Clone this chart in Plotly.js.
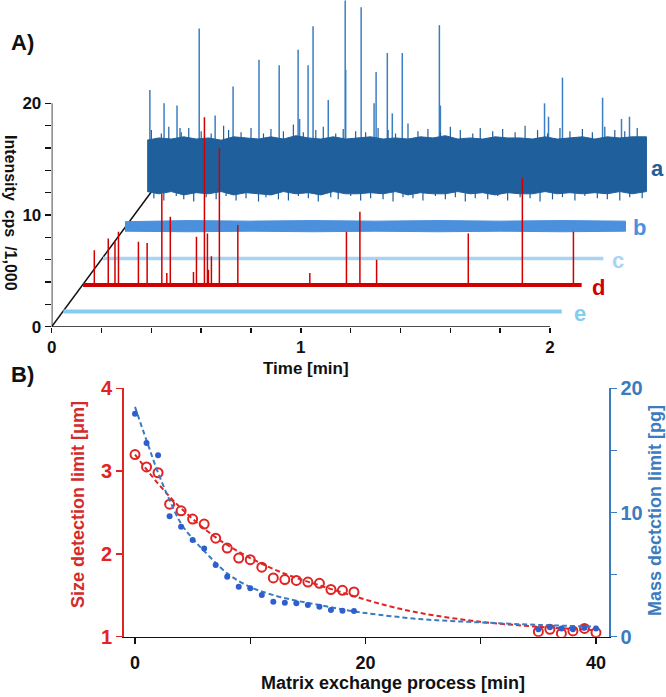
<!DOCTYPE html>
<html>
<head>
<meta charset="utf-8">
<script src="https://cdn.plot.ly/plotly-3.0.1.min.js"></script>
<style>html,body{margin:0;padding:0;background:#fff;}#chart{width:666px;height:697px;}</style>
</head>
<body>
<div id="chart"></div>
<script>
// ---------- Panel A data (time [min], intensity cps/1,000) ----------
const tA  = [0.383,0.43,0.48,0.53,0.58,0.63,0.68,0.73,0.78,0.83,0.88,0.93,0.98,1.03,1.08,1.13,1.18,1.23,1.28,1.33,1.38,1.43,1.48,1.53,1.58,1.63,1.68,1.73,1.78,1.83,1.88,1.93,1.98,2.03,2.08,2.13,2.18,2.23,2.28,2.33,2.387];
const upA = [16.7,16.9,16.8,17.0,16.8,16.9,16.7,17.0,16.9,16.8,17.0,16.8,17.1,16.9,16.8,17.0,16.8,16.9,17.0,16.8,16.9,16.8,17.0,16.9,17.1,16.8,16.9,16.8,17.0,16.9,16.9,16.8,17.0,16.8,16.9,17.0,16.8,17.0,16.9,17.0,17.0];
const loA = [12.1,11.9,12.1,11.8,12.0,11.9,12.1,11.8,12.0,11.9,11.8,12.1,11.9,12.0,11.8,12.1,11.9,11.9,12.0,11.9,12.1,11.8,12.0,11.9,11.9,12.1,11.9,12.0,11.8,12.0,11.9,11.9,12.1,11.9,12.0,11.9,12.0,11.9,12.1,11.9,12.1];
const baseA = 14.4;
// small noise excursions along the edges of trace a
const fUt = [0.40,0.44,0.47,0.52,0.55,0.60,0.64,0.69,0.71,0.76,0.80,0.85,0.88,0.93,0.97,1.01,1.06,1.09,1.14,1.17,1.22,1.26,1.31,1.35,1.38,1.43,1.47,1.51,1.56,1.60,1.64,1.69,1.72,1.77,1.81,1.86,1.90,1.95,1.99,2.04,2.08,2.13,2.17,2.22,2.26,2.30,2.35];
const fUv = [17.6,17.3,17.9,17.4,17.8,17.5,17.3,18.0,17.6,17.4,17.8,17.3,17.7,17.5,18.1,17.4,17.6,17.9,17.3,17.7,17.5,17.4,17.8,17.6,17.3,18.2,17.5,17.7,17.4,17.9,17.6,17.3,17.8,17.5,17.7,17.4,18.0,17.6,17.3,17.8,17.5,17.7,17.4,17.9,17.6,17.5,17.8];
const fLt = [0.41,0.45,0.50,0.53,0.57,0.62,0.66,0.70,0.74,0.78,0.83,0.86,0.91,0.95,0.99,1.03,1.07,1.12,1.15,1.20,1.24,1.28,1.33,1.37,1.41,1.45,1.49,1.54,1.58,1.62,1.66,1.70,1.75,1.79,1.83,1.88,1.92,1.96,2.01,2.05,2.10,2.14,2.19,2.23,2.28,2.32,2.37];
const fLv = [11.5,11.3,11.7,11.4,11.2,11.6,11.4,11.7,11.3,11.5,11.2,11.6,11.4,11.3,11.7,11.5,11.2,11.6,11.4,11.7,11.3,11.5,11.4,11.2,11.6,11.5,11.3,11.7,11.4,11.6,11.2,11.5,11.4,11.7,11.3,11.6,11.5,11.2,11.4,11.6,11.3,11.7,11.5,11.4,11.3,11.6,11.5];
const spkAt = [0.394,0.451,0.503,0.515,0.592,0.656,0.728,0.832,0.913,0.989,0.995,1.029,1.049,1.110,1.178,1.180,1.242,1.294,1.302,1.347,1.367,1.407,1.556,1.560,1.978,1.994,2.050,2.211,2.287,2.319];
const spkAv = [21.2,20.0,19.8,17.8,26.7,18.9,21.5,23.9,23.4,24.8,18.6,23.4,26.9,20.3,29.2,23.0,28.6,20.0,22.8,24.5,19.1,24.5,27.0,19.8,20.0,18.8,22.3,20.5,18.6,18.8];

const tB  = [0.294,0.55,0.8,1.05,1.3,1.55,1.8,2.05,2.303];
const upB = [9.4,9.5,9.45,9.5,9.45,9.5,9.45,9.5,9.45];
const loB = [8.55,8.5,8.55,8.5,8.55,8.5,8.55,8.5,8.55];

const tC = [0.206,2.214]; const yC = [6.1,6.1];
const tD = [0.126,2.127]; const yD = [3.73,3.73];
const tE = [0.047,2.047]; const yE = [1.35,1.35];
const baseD = 3.73;
const spkDt = [0.171,0.227,0.254,0.268,0.348,0.383,0.442,0.462,0.476,0.569,0.581,0.613,0.625,0.629,0.641,0.673,0.747,1.036,1.183,1.237,1.304,1.672,1.889,2.094];
const spkDv = [6.85,7.9,7.6,8.5,7.6,7.5,11.9,4.8,9.85,4.9,8.05,18.75,8.35,5.1,6.3,16.0,9.1,4.8,8.5,10.3,6.0,8.35,13.3,8.5];

const diagX = [0,0.401]; const diagY = [0,12.1];

const traceLabels = ['a','b','c','d','e'];
const labelX = [2.433,2.36,2.273,2.193,2.12];
const labelY = [14.2,8.9,5.95,3.55,1.22];

const xTickA = [0,0.2,0.4,0.6,0.8,1,1.2,1.4,1.6,1.8,2];
const xTextA = ['0','','','','','1','','','','','2'];
const yTickA = [0,2,4,6,8,10,12,14,16,18,20];
const yTextA = ['0','','','','','10','','','','','20'];

// ---------- Panel B data ----------
const xProc   = [0,1,2,3,4,5,6,7,8,9,10,11,12,13,14,15,16,17,18,19,35,36,37,38,39,40];
const sizeDL  = [3.2,3.05,2.98,2.6,2.52,2.42,2.36,2.19,2.07,1.95,1.93,1.84,1.71,1.69,1.68,1.66,1.645,1.57,1.56,1.54,1.06,1.09,1.04,1.07,1.10,1.05];
const massDL  = [17.95,15.6,14.6,9.7,8.86,7.79,7.1,5.77,4.83,4.03,3.9,3.36,2.82,2.74,2.69,2.55,2.42,2.15,2.09,2.07,0.59,0.76,0.67,0.6,0.72,0.67];
const fitSx = [0,2,4,7,10,13,16,19,22,25,30,35,40];
const fitSy = [3.2,2.85,2.55,2.2,1.95,1.76,1.62,1.49,1.37,1.28,1.18,1.12,1.08];
const fitMx = [0,1,2,3,4,5,6,8,10,12,14,16,18,20,25,30,35,40];
const fitMy = [18.5,15.8,13.2,11.0,9.1,7.9,6.9,5.1,4.0,3.35,2.9,2.55,2.2,1.9,1.4,1.15,0.95,0.8];

const xTickB = [0,10,20,30,40]; const xTextB = ['0','','20','','40'];
const yTickBL = [1,2,3,4]; const yTextBL = ['1','2','3','4'];
const yTickBR = [0,5,10,15,20]; const yTextBR = ['0','','10','','20'];

// ---------- helpers ----------
function stems(ts, vs, base){ const x=[],y=[]; ts.forEach((t,i)=>{x.push(t,t,null);y.push(base,vs[i],null);}); return {x,y}; }
function band(ts, up, lo){ return {x: ts.concat(ts.slice().reverse()), y: up.concat(lo.slice().reverse())}; }
const B = s => s.map(v => v==='' ? '' : '<b>'+v+'</b>');

const FONT = 'Liberation Sans, Arial, sans-serif';
const cA='#1f5f9c', cAs='#3b7ec4', cB='#4a90dc', cC='#a8d3f5', cD='#d10000', cE='#84cdf1';
const red='#e02424', blue='#3b7bbf', blueDot='#2f5fcc';

const bA = band(tA, upA, loA), bB = band(tB, upB, loB);
const sA = stems(spkAt, spkAv, baseA), sD = stems(spkDt, spkDv, baseD);
const fU = stems(fUt, fUv, baseA), fL = stems(fLt, fLv, baseA);

const traces = [
  {x: diagX, y: diagY, xaxis:'x', yaxis:'y', mode:'lines', line:{color:'#111', width:1.5}},
  {x: sA.x, y: sA.y, xaxis:'x', yaxis:'y', mode:'lines', line:{color:cAs, width:1.5}},
  {x: fU.x, y: fU.y, xaxis:'x', yaxis:'y', mode:'lines', line:{color:cA, width:1.2}},
  {x: fL.x, y: fL.y, xaxis:'x', yaxis:'y', mode:'lines', line:{color:cA, width:1.2}},
  {x: bA.x, y: bA.y, xaxis:'x', yaxis:'y', mode:'lines', fill:'toself', fillcolor:cA, line:{color:cA, width:1}},
  {x: bB.x, y: bB.y, xaxis:'x', yaxis:'y', mode:'lines', fill:'toself', fillcolor:cB, line:{color:cB, width:1}},
  {x: tC, y: yC, xaxis:'x', yaxis:'y', mode:'lines', line:{color:cC, width:3.5}},
  {x: tE, y: yE, xaxis:'x', yaxis:'y', mode:'lines', line:{color:cE, width:4}},
  {x: sD.x, y: sD.y, xaxis:'x', yaxis:'y', mode:'lines', line:{color:cD, width:1.5}},
  {x: tD, y: yD, xaxis:'x', yaxis:'y', mode:'lines', line:{color:cD, width:4}},
  // Panel B
  {x: fitSx, y: fitSy, xaxis:'x2', yaxis:'y2', mode:'lines', line:{color:red, width:2, dash:'5px,3px', shape:'spline', smoothing:1}},
  {x: fitMx, y: fitMy, xaxis:'x2', yaxis:'y3', mode:'lines', line:{color:blue, width:2, dash:'5px,3px', shape:'spline', smoothing:1}},
  {x: xProc, y: massDL, xaxis:'x2', yaxis:'y3', mode:'markers', marker:{color:blueDot, size:6, symbol:'circle'}},
  {x: xProc, y: sizeDL, xaxis:'x2', yaxis:'y2', mode:'markers', marker:{color:red, size:9, symbol:'circle-open', line:{color:red, width:2}}}
];

const W=666, H=697;
const px = v => v/W, py = v => 1 - v/H;
function ann(text, x, y, size, color, angle){
  return {text:text, x:px(x), y:py(y), xref:'paper', yref:'paper', xanchor:'center', yanchor:'middle', showarrow:false, textangle:angle||0, font:{family:FONT,size:size,color:color}};
}

const annotations = [
  ann('<b>A)</b>', 22, 43, 22, '#111'),
  ann('<b>B)</b>', 22, 374, 22, '#111'),
  ann('<b>Time [min]</b>', 306, 368, 17, '#111'),
  ann('<b>Intensity  cps  /1,000</b>', 11, 213, 16, '#111', 90),
  ann('<b>Matrix exchange process [min]</b>', 393, 683, 18, '#111'),
  ann('<b>Size detection limit [\u03bcm]</b>', 78, 505, 18, '#d42a2a', -90),
  ann('<b>Mass dectction limit [pg]</b>', 655, 511, 18, blue, -90)
];
const labColors = [cA,cB,cC,cD,cE];
traceLabels.forEach((t,i)=>annotations.push({text:'<b>'+t+'</b>', x:labelX[i], y:labelY[i], xref:'x', yref:'y', xanchor:'center', yanchor:'middle', showarrow:false, font:{family:FONT,size:22,color:labColors[i]}}));

const layout = {
  width: W, height: H, margin:{l:0,r:0,t:0,b:0}, showlegend:false,
  paper_bgcolor:'#fff', plot_bgcolor:'rgba(0,0,0,0)',
  font:{family:FONT, color:'#111'},
  xaxis:{domain:[px(51.7), px(662)], range:[0,2.4495], anchor:'y', showgrid:false, zeroline:false, showline:false,
    tickmode:'array', tickvals:xTickA, ticktext:B(xTextA), ticks:'outside', ticklen:5, tickwidth:1.5, tickcolor:'#111',
    tickfont:{family:FONT,size:17,color:'#111'}},
  yaxis:{domain:[1-326.7/H, 1], range:[0,29.25], anchor:'x', showgrid:false, zeroline:false, showline:false,
    tickmode:'array', tickvals:yTickA, ticktext:B(yTextA), ticks:'outside', ticklen:6, tickwidth:1.5, tickcolor:'#111',
    tickfont:{family:FONT,size:17,color:'#111'}},
  xaxis2:{domain:[px(123.5), px(609)], range:[-1,41.13], anchor:'y2', showgrid:false, zeroline:false, showline:true, linecolor:'#111', linewidth:1.5,
    tickmode:'array', tickvals:xTickB, ticktext:B(xTextB), ticks:'outside', ticklen:6, tickwidth:1.5, tickcolor:'#111', ticklabelstandoff:3,
    tickfont:{family:FONT,size:18,color:'#111'}},
  yaxis2:{domain:[1-636.7/H, 1-388.3/H], range:[1,4], anchor:'x2', showgrid:false, zeroline:false, showline:true, linecolor:red, linewidth:1.5,
    tickmode:'array', tickvals:yTickBL, ticktext:B(yTextBL), ticks:'outside', ticklen:6, tickwidth:1.5, tickcolor:red,
    tickfont:{family:FONT,size:20,color:red}},
  yaxis3:{domain:[1-636.7/H, 1-388.3/H], range:[0,20], overlaying:'y2', side:'right', anchor:'x2', showgrid:false, zeroline:false, showline:true, linecolor:blue, linewidth:1.5,
    tickmode:'array', tickvals:yTickBR, ticktext:B(yTextBR), ticks:'outside', ticklen:6, tickwidth:1.5, tickcolor:blue,
    tickfont:{family:FONT,size:20,color:blue}},
  shapes:[
    {type:'line', xref:'x', yref:'y', x0:0, x1:2, y0:0, y1:0, line:{color:'#111', width:1.5}},
    {type:'line', xref:'x', yref:'y', x0:0, x1:0, y0:0, y1:20, line:{color:'#111', width:1.5}}
  ],
  annotations: annotations
};

Plotly.newPlot('chart', traces, layout, {staticPlot:true, displayModeBar:false});
</script>
</body>
</html>
